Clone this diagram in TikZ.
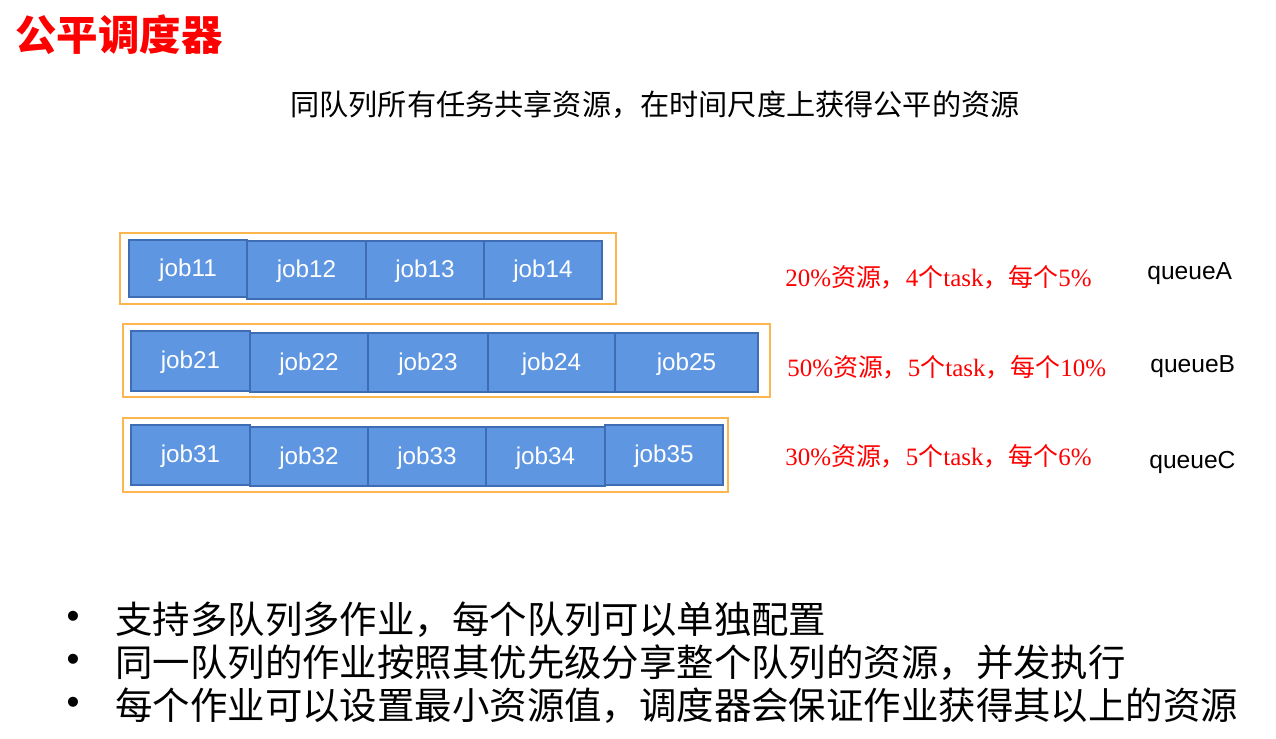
\documentclass[tikz,border=0pt]{standalone}
\usepackage{fontspec}
\setmainfont{Liberation Serif}
\setsansfont{Liberation Sans}
\newfontfamily\cjk{Noto Sans CJK SC}
\definecolor{jobfill}{HTML}{5F96E2}
\definecolor{jobline}{HTML}{3F6DB3}
\definecolor{queueframe}{HTML}{FDB64E}
\tikzset{
  jobbox/.style={draw=jobline, fill=jobfill, line width=1.1pt, minimum height=1.17cm,
    inner sep=0pt, text height=1em, text depth=0.12em, text=white,
    font=\sffamily\fontsize{13.8}{16}\selectfont},
  queuebox/.style={draw=queueframe, line width=1.1pt, inner sep=0pt},
  share/.style={anchor=west, inner sep=0pt, text=red, font=\fontsize{14.2}{17}\selectfont},
  qname/.style={anchor=west, inner sep=0pt, font=\sffamily\fontsize{14}{17}\selectfont},
  bullet/.style={inner sep=0pt, font=\sffamily\fontsize{21}{25}\selectfont},
  point/.style={anchor=west, inner sep=0pt, font=\cjk\fontsize{21.3}{25}\selectfont},
}
\begin{document}
\begin{tikzpicture}[x=0.02cm, y=-0.02cm]
  \useasboundingbox (0,0) rectangle (1276,738);
  % title and subtitle
  \node[anchor=west, inner sep=0pt, text=red, font=\cjk\bfseries\fontsize{23.6}{28}\selectfont]
    (title) at (15,35) {公平调度器};
  \node[inner sep=0pt, font=\cjk\fontsize{16.6}{20}\selectfont]
    (sub) at (655,105) {同队列所有任务共享资源，在时间尺度上获得公平的资源};
  % queue frames
  \node[queuebox, minimum width=9.92cm, minimum height=1.42cm] (qA) at (368,268.5) {};
  \node[queuebox, minimum width=12.94cm, minimum height=1.46cm] (qB) at (446.5,360.5) {};
  \node[queuebox, minimum width=12.1cm, minimum height=1.48cm] (qC) at (425.5,455) {};
  % queueA jobs
  \node[jobbox, minimum width=2.36cm, minimum height=1.14cm] (job11) at (188,268.5) {job11};
  \node[jobbox, minimum width=2.38cm] (job12) at (306.5,270) {job12};
  \node[jobbox, minimum width=2.36cm] (job13) at (425,270) {job13};
  \node[jobbox, minimum width=2.36cm] (job14) at (543,270) {job14};
  % queueB jobs
  \node[jobbox, minimum width=2.38cm, minimum height=1.2cm] (job21) at (190.5,361) {job21};
  \node[jobbox, minimum width=2.36cm] (job22) at (309,362.5) {job22};
  \node[jobbox, minimum width=2.4cm] (job23) at (428,362.5) {job23};
  \node[jobbox, minimum width=2.54cm] (job24) at (551.5,362.5) {job24};
  \node[jobbox, minimum width=2.86cm] (job25) at (686.5,362.5) {job25};
  % queueC jobs
  \node[jobbox, minimum width=2.38cm, minimum height=1.2cm] (job31) at (190.5,455) {job31};
  \node[jobbox, minimum width=2.36cm] (job32) at (309,456.5) {job32};
  \node[jobbox, minimum width=2.36cm] (job33) at (427,456.5) {job33};
  \node[jobbox, minimum width=2.38cm] (job34) at (545.5,456.5) {job34};
  \node[jobbox, minimum width=2.36cm, minimum height=1.2cm] (job35) at (664,455) {job35};
  % shares
  \node[share] (shareA) at (785,277) {20\%{\cjk 资源，}4{\cjk 个}task{\cjk ，每个}5\%};
  \node[share] (shareB) at (787,367) {50\%{\cjk 资源，}5{\cjk 个}task{\cjk ，每个}10\%};
  \node[share] (shareC) at (785,456) {30\%{\cjk 资源，}5{\cjk 个}task{\cjk ，每个}6\%};
  % queue names
  \node[qname] (nameA) at (1147,274) {queueA};
  \node[qname] (nameB) at (1150,367) {queueB};
  \node[qname] (nameC) at (1149,462) {queueC};
  % points
  \node[bullet] (b1) at (73,620) {•};
  \node[bullet] (b2) at (73,663) {•};
  \node[bullet] (b3) at (73,706) {•};
  \node[point] (p1) at (115,620) {支持多队列多作业，每个队列可以单独配置};
  \node[point] (p2) at (115,663) {同一队列的作业按照其优先级分享整个队列的资源，并发执行};
  \node[point] (p3) at (115,706) {每个作业可以设置最小资源值，调度器会保证作业获得其以上的资源};
\end{tikzpicture}
\end{document}
